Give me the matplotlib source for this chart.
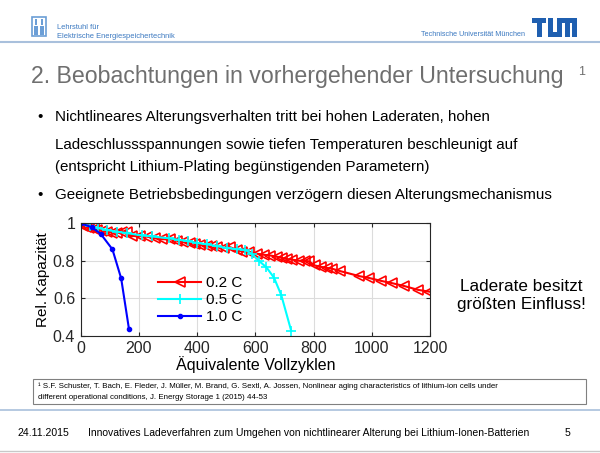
import matplotlib
matplotlib.use("Agg")
import matplotlib.pyplot as plt
from matplotlib.patches import Rectangle
from matplotlib.lines import Line2D

plt.rcParams['font.family'] = ['Liberation Sans', 'DejaVu Sans']

# data
red_x = [0, 9, 18, 30, 44, 57, 72, 89, 107, 124, 141, 158, 176, 204, 227, 256, 279, 307, 330, 353,
         376, 393, 411, 434, 451, 468, 491, 514, 537, 554, 577, 604, 629, 652, 673, 692, 710, 727,
         750, 769, 784, 804, 824, 845, 865, 891, 957, 991, 1031, 1071, 1112, 1158, 1198]
red_y = [1.000, 0.988, 0.979, 0.973, 0.968, 0.964, 0.959, 0.954, 0.950, 0.950, 0.954, 0.954, 0.932,
         0.932, 0.929, 0.920, 0.915, 0.915, 0.907, 0.899, 0.893, 0.890, 0.884, 0.879, 0.879, 0.872,
         0.867, 0.872, 0.858, 0.849, 0.849, 0.838, 0.832, 0.828, 0.822, 0.815, 0.808, 0.806, 0.800,
         0.800, 0.797, 0.775, 0.768, 0.762, 0.757, 0.745, 0.718, 0.708, 0.693, 0.680, 0.665, 0.645, 0.635]
cyan_x = [0, 32, 60, 89, 124, 158, 210, 244, 302, 336, 370, 399, 434, 468, 502, 537, 566, 589,
          612, 638, 664, 689, 723]
cyan_y = [1.0, 0.985, 0.975, 0.965, 0.955, 0.948, 0.935, 0.93, 0.92, 0.912, 0.905, 0.895, 0.888,
          0.878, 0.868, 0.862, 0.858, 0.835, 0.80, 0.765, 0.71, 0.617, 0.427]
blue_x = [0, 38, 69, 109, 139, 166]
blue_y = [1.0, 0.979, 0.943, 0.861, 0.706, 0.434]
labels = ["0.2 C", "0.5 C", "1.0 C"]

title = "2. Beobachtungen in vorhergehender Untersuchung"
bullets = ["Nichtlineares Alterungsverhalten tritt bei hohen Laderaten, hohen",
           "Ladeschlussspannungen sowie tiefen Temperaturen beschleunigt auf",
           "(entspricht Lithium-Plating begünstigenden Parametern)",
           "Geeignete Betriebsbedingungen verzögern diesen Alterungsmechanismus"]
footnote = ["S.F. Schuster, T. Bach, E. Fleder, J. Müller, M. Brand, G. Sextl, A. Jossen, Nonlinear aging characteristics of lithium-ion cells under",
            "different operational conditions, J. Energy Storage 1 (2015) 44-53"]

W, H = 600, 453
fig = plt.figure(figsize=(W / 100, H / 100), dpi=100)


def px(x, y):
    return x / W, 1 - y / H


def text(x, y, s, **kw):
    fig.text(*px(x, y), s, **kw)


def hline(y, x0, x1, color, lw):
    fig.add_artist(Line2D([x0 / W, x1 / W], [1 - y / H, 1 - y / H], color=color, lw=lw,
                          transform=fig.transFigure))


def rect(x, y, w, h, fc, ec='none', lw=0):
    fig.add_artist(Rectangle(px(x, y + h), w / W, h / H, fc=fc, ec=ec, lw=lw,
                             transform=fig.transFigure))


# header
lightblue = '#6b9ed6'
rect(32, 17, 14, 19, 'white', lightblue, 1.2)
rect(34, 26, 4, 9, lightblue)
rect(40, 26, 4, 9, lightblue)
rect(35, 19, 2, 6, lightblue)
rect(41, 19, 2, 6, lightblue)
text(57, 29, "Lehrstuhl für", fontsize=5.4, color='#3a78c0', va='baseline')
text(57, 38, "Elektrische Energiespeichertechnik", fontsize=5.4, color='#3a78c0', va='baseline')
text(421, 36, "Technische Universität München", fontsize=5.2, color='#3a78c0', va='baseline')
tum = '#1f5fb0'
lx, ly = 532, 18
for (x, y, w, h) in [(0, 0, 14, 5), (4.5, 0, 5, 19), (16, 0, 5, 19), (16, 14, 14, 5),
                     (25, 0, 20, 5), (25, 0, 5, 19), (32.5, 0, 5, 19), (40, 0, 5, 19)]:
    rect(lx + x, ly + y, w, h, tum)
hline(42, 0, 600, '#a9c0dc', 1.5)

# title
text(31, 83, title, fontsize=16.7, color='#6f6f6f', va='baseline')
text(578, 75, "1", fontsize=9, color='#6f6f6f', va='baseline')

# bullets
for y, s, dot in zip([121, 149, 171, 199], bullets, [True, False, False, True]):
    if dot:
        text(37, y, "•", fontsize=11, va='baseline')
    text(55, y, s, fontsize=10.9, va='baseline')

# chart
ax = fig.add_axes([80.7 / W, 1 - 335.7 / H, (430 - 80.7) / W, (335.7 - 223.3) / H])
ax.plot(red_x, red_y, color='#ff0000', lw=1.5, marker='<', ms=7, mfc='none', mew=1.2, label=labels[0])
ax.plot(cyan_x, cyan_y, color='#00ffff', lw=1.5, marker='+', ms=7, mew=1.2, label=labels[1])
ax.plot(blue_x, blue_y, color='#0000ff', lw=1.5, marker='.', ms=6, label=labels[2])
ax.set_xlim(0, 1200)
ax.set_ylim(0.4, 1.0)
ax.set_xticks([0, 200, 400, 600, 800, 1000, 1200])
ax.set_yticks([0.4, 0.6, 0.8, 1.0])
ax.set_yticklabels(["0.4", "0.6", "0.8", "1"])
ax.grid(True, color='#dcdcdc', lw=0.8)
ax.set_axisbelow(True)
ax.tick_params(direction='in', labelsize=11.5, length=3, colors='#262626', top=True, right=True)
ax.tick_params(axis='x', pad=4)
ax.tick_params(axis='y', pad=4)
for sp in ax.spines.values():
    sp.set_color('#262626')
    sp.set_linewidth(0.8)
ax.set_xlabel("Äquivalente Vollzyklen", fontsize=11.5, labelpad=0)
ax.set_ylabel("Rel. Kapazität", fontsize=11, labelpad=2)
ax.legend(loc='upper left', bbox_to_anchor=(0.2, 0.6), frameon=False, fontsize=11,
          handlelength=2.8, handletextpad=0.3, labelspacing=0.2, borderpad=0)

text(521, 291, "Laderate besitzt", fontsize=12.3, ha='center', va='baseline')
text(521, 309, "größten Einfluss!", fontsize=12.3, ha='center', va='baseline')

# footnote box
rect(33, 379, 553, 25, 'white', '#808080', 0.8)
text(38, 388.5, "¹ " + footnote[0], fontsize=5.65, va='baseline')
text(38, 399, footnote[1], fontsize=5.65, va='baseline')

# footer
hline(410, 0, 600, '#a9c0dc', 1.2)
text(18, 436, "24.11.2015", fontsize=7.6, va='baseline')
text(88, 436, "Innovatives Ladeverfahren zum Umgehen von nichtlinearer Alterung bei Lithium-Ionen-Batterien",
     fontsize=7.5, va='baseline')
text(565, 436, "5", fontsize=7.6, va='baseline')
hline(451, 0, 600, '#c8c8c8', 1.0)

fig.savefig("out.png", dpi=100)
